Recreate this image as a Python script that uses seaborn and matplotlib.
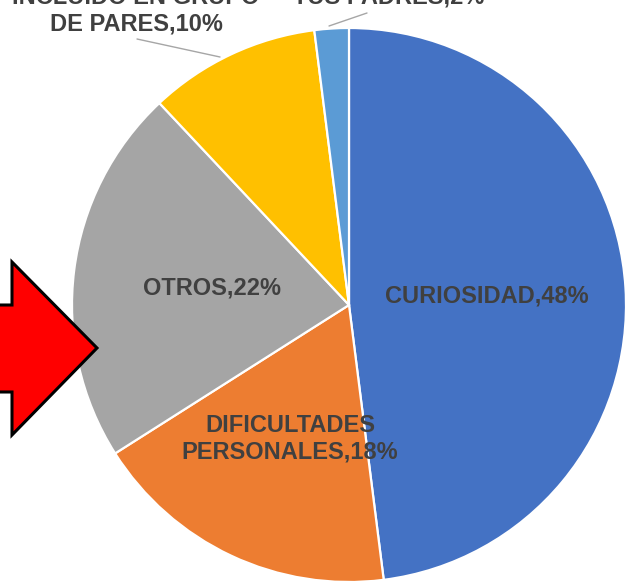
import numpy as np
import matplotlib
matplotlib.use("Agg")
import matplotlib.pyplot as plt
import seaborn as sns
from matplotlib.patches import Polygon

sns.set_theme(style="white")
plt.rcParams['font.family'] = ['Liberation Sans', 'DejaVu Sans']

# datos
categorias = ["CURIOSIDAD", "DIFICULTADES\nPERSONALES", "OTROS",
              "INCLUIDO EN GRUPO\nDE PARES", "TUS PADRES"]
porcentajes = [48, 18, 22, 10, 2]
colores = ['#4472C4', '#ED7D31', '#A5A5A5', '#FFC000', '#5B9BD5']

W, H = 627, 588
fig = plt.figure(figsize=(W / 100, H / 100), dpi=100)
fig.patch.set_facecolor('white')

# centro del pastel (349, 305) px, radio 277 px
cx, cy, R = 349, 305, 277
ax = fig.add_axes([(cx - R) / W, 1 - (cy + R) / H, 2 * R / W, 2 * R / H])

wedges, _ = ax.pie(porcentajes, colors=colores, startangle=90, counterclock=False,
                   radius=1, wedgeprops=dict(edgecolor='white', linewidth=1.6))
ax.set_xlim(-1, 1)
ax.set_ylim(-1, 1)
ax.set_aspect('equal')
ax.axis('off')

txt = dict(fontsize=17, fontweight='bold', color='#404040', ha='center', va='center',
           linespacing=1.2)

def px2d(px, py):
    return (px - cx) / R, (cy - py) / R

# etiquetas internas (a media distancia, angulo medio)
for i in range(3):
    w = wedges[i]
    ang = np.deg2rad((w.theta1 + w.theta2) / 2)
    x, y = 0.5 * np.cos(ang), 0.5 * np.sin(ang)
    if i == 1:
        y -= 0.03
    ax.text(x, y, f"{categorias[i]},{porcentajes[i]}%", **txt)

# etiquetas externas con linea guia
x, y = px2d(136, 11)
ax.text(x, y, f"{categorias[3]},{porcentajes[3]}%", clip_on=False, **txt)
x0, y0 = px2d(137, 39); x1, y1 = px2d(220, 57)
ax.plot([x0, x1], [y0, y1], color='#A6A6A6', lw=1, clip_on=False)

x, y = px2d(389, -3)
ax.text(x, y, f"{categorias[4]},{porcentajes[4]}%", clip_on=False, **txt)
x0, y0 = px2d(367, 13); x1, y1 = px2d(329, 26)
ax.plot([x0, x1], [y0, y1], color='#A6A6A6', lw=1, clip_on=False)

# flecha roja
flecha_px = [(-6, 305), (12, 305), (12, 262), (97, 348), (12, 435), (12, 392), (-6, 392)]
flecha = Polygon([(px / W, 1 - py / H) for px, py in flecha_px], closed=True,
                 transform=fig.transFigure, facecolor='#FF0000', edgecolor='black',
                 linewidth=2.2, joinstyle='miter', zorder=5)
fig.patches.append(flecha)

fig.savefig("out.png", dpi=100)
